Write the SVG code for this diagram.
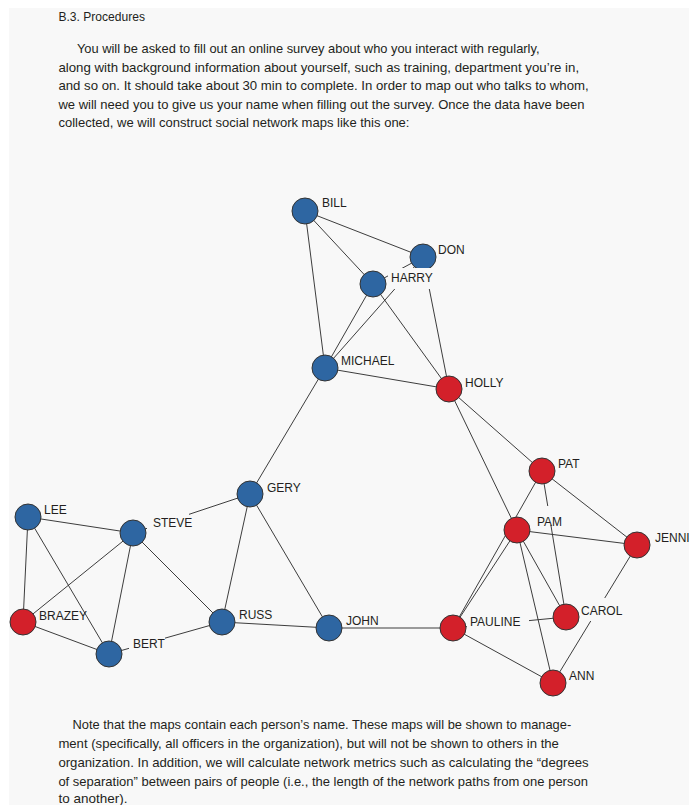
<svg xmlns="http://www.w3.org/2000/svg" width="689" height="805" viewBox="0 0 689 805">
<style>
.body{font-family:"Liberation Sans",Arial,sans-serif;font-size:12.8px;fill:#231f20}
.lbl{font-family:"Liberation Sans",Arial,sans-serif;font-size:12px;fill:#231f20}
.edge line{stroke:#333;stroke-width:0.95}
.b{fill:#2e66a2;stroke:#333;stroke-width:1}
.r{fill:#d3202a;stroke:#333;stroke-width:1}
.ko{fill:#f8f8f8}
</style>
<rect x="0" y="0" width="689" height="805" fill="#ffffff"/>
<rect x="9" y="8" width="680" height="797" fill="#f8f8f8"/>
<g id="text-top">
<text class="body" x="58.4" y="21" textLength="86.6" lengthAdjust="spacingAndGlyphs">B.3. Procedures</text>
<text class="body" x="76.9" y="53" textLength="462.6" lengthAdjust="spacingAndGlyphs">You will be asked to fill out an online survey about who you interact with regularly,</text>
<text class="body" x="58.4" y="71.5" textLength="520.7" lengthAdjust="spacingAndGlyphs">along with background information about yourself, such as training, department you’re in,</text>
<text class="body" x="58.4" y="90" textLength="530.3" lengthAdjust="spacingAndGlyphs">and so on. It should take about 30 min to complete. In order to map out who talks to whom,</text>
<text class="body" x="58.4" y="108.5" textLength="526" lengthAdjust="spacingAndGlyphs">we will need you to give us your name when filling out the survey. Once the data have been</text>
<text class="body" x="58.4" y="127" textLength="351.1" lengthAdjust="spacingAndGlyphs">collected, we will construct social network maps like this one:</text>
</g>
<g id="text-bottom">
<text class="body" x="72.5" y="729" textLength="498.7" lengthAdjust="spacingAndGlyphs">Note that the maps contain each person’s name. These maps will be shown to manage-</text>
<text class="body" x="58.4" y="748" textLength="500.5" lengthAdjust="spacingAndGlyphs">ment (specifically, all officers in the organization), but will not be shown to others in the</text>
<text class="body" x="58.4" y="767" textLength="530.3" lengthAdjust="spacingAndGlyphs">organization. In addition, we will calculate network metrics such as calculating the “degrees</text>
<text class="body" x="58.4" y="786" textLength="529.5" lengthAdjust="spacingAndGlyphs">of separation” between pairs of people (i.e., the length of the network paths from one person</text>
<text class="body" x="58.4" y="803" textLength="69" lengthAdjust="spacingAndGlyphs">to another).</text>
</g>
<g id="connectors" class="edge">
<line x1="305" y1="211" x2="423" y2="257"/>
<line x1="305" y1="211" x2="373" y2="284"/>
<line x1="305" y1="211" x2="325" y2="368"/>
<line x1="373" y1="284" x2="423" y2="257"/>
<line x1="373" y1="284" x2="325" y2="368"/>
<line x1="373" y1="284" x2="449" y2="389"/>
<line x1="325" y1="368" x2="423" y2="257"/>
<line x1="423" y1="257" x2="449" y2="389"/>
<line x1="325" y1="368" x2="449" y2="389"/>
<line x1="325" y1="368" x2="250" y2="494"/>
<line x1="449" y1="389" x2="542" y2="471"/>
<line x1="449" y1="389" x2="517" y2="530"/>
<line x1="542" y1="471" x2="453" y2="628"/>
<line x1="542" y1="471" x2="637" y2="545"/>
<line x1="542" y1="471" x2="566" y2="617"/>
<line x1="517" y1="530" x2="637" y2="545"/>
<line x1="517" y1="530" x2="453" y2="628"/>
<line x1="517" y1="530" x2="566" y2="617"/>
<line x1="517" y1="530" x2="553" y2="683"/>
<line x1="453" y1="628" x2="566" y2="617"/>
<line x1="453" y1="628" x2="553" y2="683"/>
<line x1="637" y1="545" x2="553" y2="683"/>
<line x1="329" y1="628" x2="453" y2="628"/>
<line x1="28" y1="517" x2="133" y2="533"/>
<line x1="28" y1="517" x2="23" y2="622"/>
<line x1="28" y1="517" x2="109" y2="654"/>
<line x1="133" y1="533" x2="23" y2="622"/>
<line x1="133" y1="533" x2="109" y2="654"/>
<line x1="133" y1="533" x2="222" y2="622"/>
<line x1="133" y1="533" x2="250" y2="494"/>
<line x1="23" y1="622" x2="109" y2="654"/>
<line x1="109" y1="654" x2="222" y2="622"/>
<line x1="250" y1="494" x2="222" y2="622"/>
<line x1="250" y1="494" x2="329" y2="628"/>
<line x1="222" y1="622" x2="329" y2="628"/>
</g>
<g id="node-bill"><circle class="b" cx="305" cy="211" r="13"/><text class="lbl" x="322" y="207">BILL</text></g>
<g id="node-don"><circle class="b" cx="423" cy="257" r="13"/><text class="lbl" x="438" y="254">DON</text></g>
<g id="node-harry"><circle class="b" cx="373" cy="284" r="13"/><rect class="ko" x="388" y="268" width="43" height="21"/><text class="lbl" x="391" y="282">HARRY</text></g>
<g id="node-michael"><circle class="b" cx="325" cy="368" r="13"/><text class="lbl" x="341" y="365">MICHAEL</text></g>
<g id="node-holly"><circle class="r" cx="449" cy="389" r="13"/><text class="lbl" x="465" y="387">HOLLY</text></g>
<g id="node-gery"><circle class="b" cx="250" cy="494" r="13"/><text class="lbl" x="267" y="492">GERY</text></g>
<g id="node-lee"><circle class="b" cx="28" cy="517" r="13"/><text class="lbl" x="44" y="514">LEE</text></g>
<g id="node-steve"><circle class="b" cx="133" cy="533" r="13"/><rect class="ko" x="147" y="512" width="42" height="18"/><text class="lbl" x="153" y="527">STEVE</text></g>
<g id="node-brazey"><circle class="r" cx="23" cy="622" r="13"/><text class="lbl" x="39" y="620">BRAZEY</text></g>
<g id="node-bert"><circle class="b" cx="109" cy="654" r="13"/><rect class="ko" x="129" y="636" width="36" height="16"/><text class="lbl" x="133" y="648">BERT</text></g>
<g id="node-russ"><circle class="b" cx="222" cy="622" r="13"/><text class="lbl" x="239" y="619">RUSS</text></g>
<g id="node-john"><circle class="b" cx="329" cy="628" r="13"/><text class="lbl" x="346" y="625">JOHN</text></g>
<g id="node-pat"><circle class="r" cx="542" cy="471" r="13"/><text class="lbl" x="558" y="468">PAT</text></g>
<g id="node-pam"><circle class="r" cx="517" cy="530" r="13"/><rect class="ko" x="535" y="506" width="31" height="19"/><text class="lbl" x="537" y="526">PAM</text></g>
<g id="node-jenni"><circle class="r" cx="637" cy="545" r="13"/><text class="lbl" x="655" y="542">JENNI</text></g>
<g id="node-carol"><circle class="r" cx="566" cy="617" r="13"/><rect class="ko" x="580" y="598" width="45" height="23"/><text class="lbl" x="581" y="615">CAROL</text></g>
<g id="node-pauline"><circle class="r" cx="453" cy="628" r="13"/><rect class="ko" x="467" y="612" width="62" height="19"/><text class="lbl" x="470" y="626">PAULINE</text></g>
<g id="node-ann"><circle class="r" cx="553" cy="683" r="13"/><text class="lbl" x="569" y="680">ANN</text></g>
</svg>
